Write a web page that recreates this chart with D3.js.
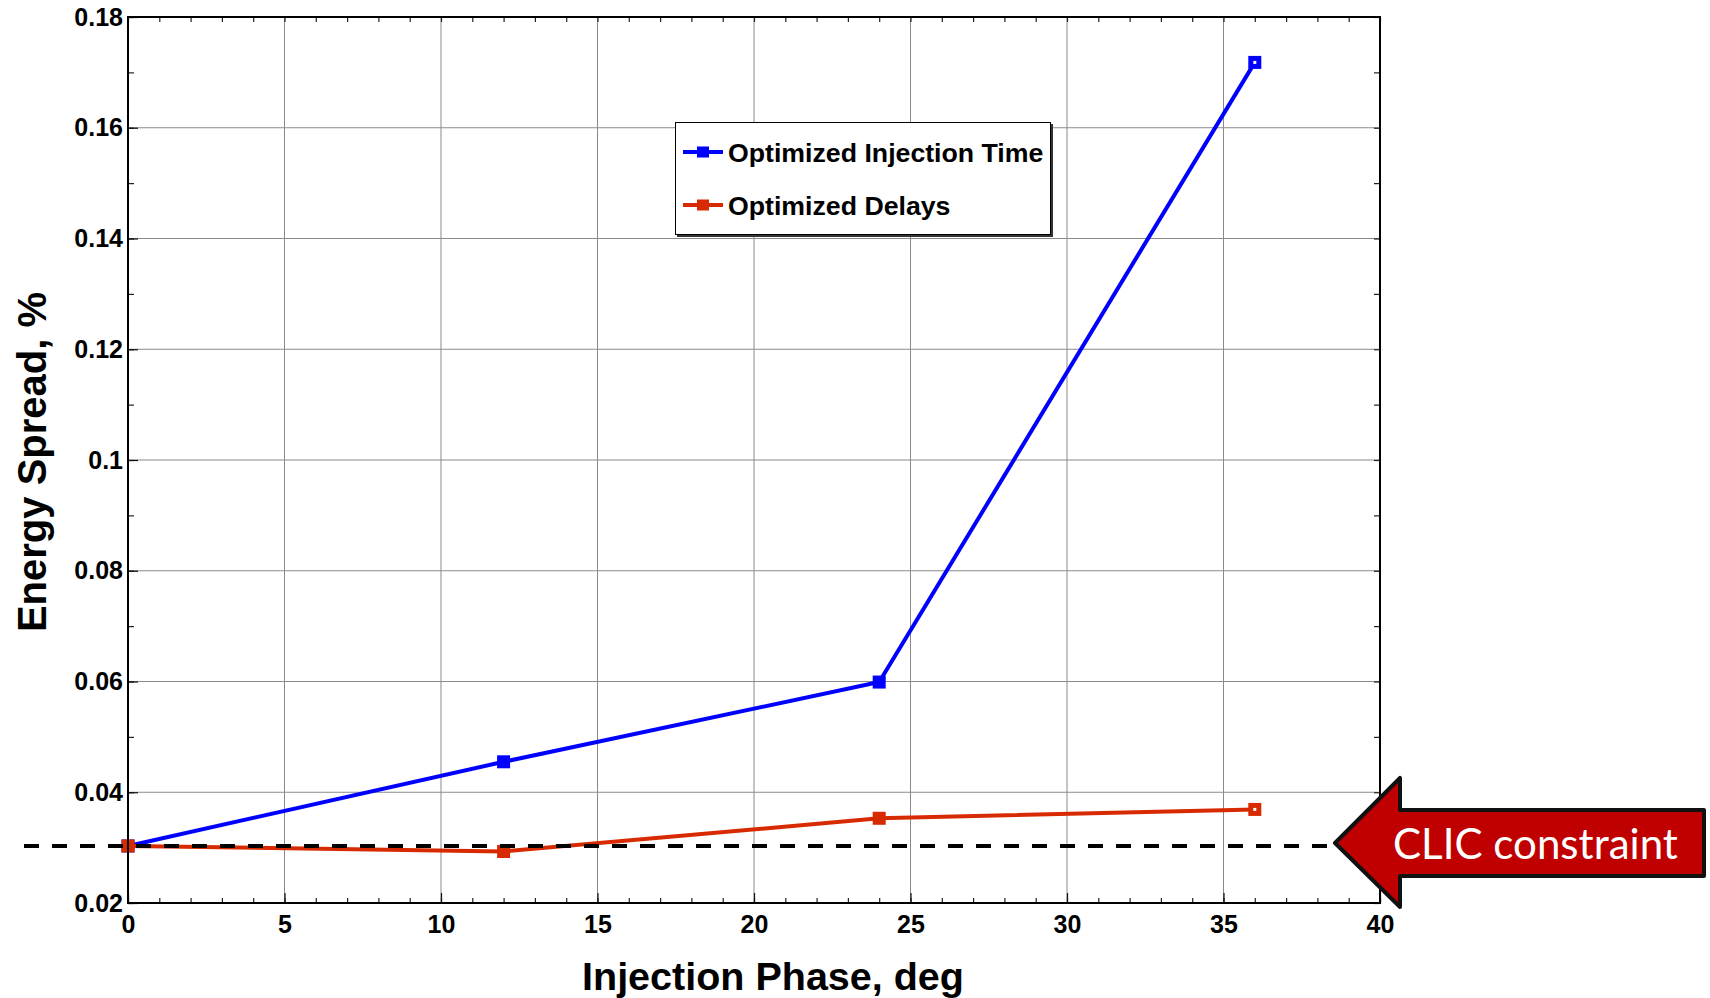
<!DOCTYPE html>
<html>
<head>
<meta charset="utf-8">
<script src="https://cdn.jsdelivr.net/npm/d3@7"></script>
<style>
  html, body { margin: 0; padding: 0; background: #ffffff; }
  svg { display: block; }
</style>
</head>
<body>
<svg id="chart" width="1710" height="998"></svg>
<script>
// ---- data ----
const phases = [0, 12, 24, 36];
const injectionTime = [0.0303, 0.0455, 0.0599, 0.1718];
const delays = [0.0303, 0.0293, 0.0353, 0.0369];
const seriesNames = ["Optimized Injection Time", "Optimized Delays"];
const seriesColors = ["#0000ff", "#d82a00"];
const xTicks = [0, 5, 10, 15, 20, 25, 30, 35, 40];
const yTicks = [0.02, 0.04, 0.06, 0.08, 0.1, 0.12, 0.14, 0.16, 0.18];
const yTickLabels = ["0.02", "0.04", "0.06", "0.08", "0.1", "0.12", "0.14", "0.16", "0.18"];
const xMinor = d3.range(0, 41, 1);
const yMinor = d3.range(0.02, 0.1801, 0.01);
const clicConstraint = 0.0303;
const clicLabel = "CLIC constraint";
const xTitle = "Injection Phase, deg";
const yTitle = "Energy Spread, %";

// ---- layout ----
const L = 128, R = 1380, T = 17, B = 903;
const svg = d3.select("#chart");
const x = d3.scaleLinear().domain([0, 40]).range([L, R]);
const y = d3.scaleLinear().domain([0.02, 0.18]).range([B, T]);
const FONT = "'Liberation Sans', Arial, sans-serif";

// grid
const grid = svg.append("g").attr("stroke", "#8a8a8a").attr("stroke-width", 1);
grid.selectAll("line.v").data(xTicks.slice(1, -1)).join("line")
  .attr("x1", d => x(d)).attr("x2", d => x(d)).attr("y1", T).attr("y2", B);
grid.selectAll("line.h").data(yTicks.slice(1, -1)).join("line")
  .attr("y1", d => y(d)).attr("y2", d => y(d)).attr("x1", L).attr("x2", R);

// minor ticks (inward), all four sides
const minorG = svg.append("g");
minorG.append("g").attr("transform", `translate(0,${B})`)
  .call(d3.axisBottom(x).tickValues(xMinor).tickSize(-5).tickFormat(""));
minorG.append("g").attr("transform", `translate(0,${T})`)
  .call(d3.axisTop(x).tickValues(xMinor).tickSize(-5).tickFormat(""));
minorG.append("g").attr("transform", `translate(${L},0)`)
  .call(d3.axisLeft(y).tickValues(yMinor).tickSize(-6).tickFormat(""));
minorG.append("g").attr("transform", `translate(${R},0)`)
  .call(d3.axisRight(y).tickValues(yMinor).tickSize(-6).tickFormat(""));
minorG.selectAll(".domain").remove();
minorG.selectAll(".tick line").attr("stroke", "#222").attr("stroke-width", 1.2);

// major axes with labels
const xAxisG = svg.append("g").attr("transform", `translate(0,${B})`)
  .call(d3.axisBottom(x).tickValues(xTicks).tickSize(-10).tickPadding(12).tickFormat(d3.format("d")));
const yAxisG = svg.append("g").attr("transform", `translate(${L},0)`)
  .call(d3.axisLeft(y).tickValues(yTicks).tickSize(-10).tickPadding(5)
    .tickFormat((d, i) => yTickLabels[i]));
[xAxisG, yAxisG].forEach(g => {
  g.select(".domain").remove();
  g.selectAll(".tick line").attr("stroke", "#111").attr("stroke-width", 1.2);
  g.selectAll(".tick text").attr("font-family", FONT).attr("font-weight", "bold")
    .attr("font-size", 25).attr("fill", "#000");
});

// series
const seriesData = [injectionTime, delays];
const line = d3.line().x(d => x(d[0])).y(d => y(d[1]));
seriesData.forEach((vals, si) => {
  const pts = phases.map((p, i) => [p, vals[i]]);
  svg.append("path").datum(pts).attr("d", line)
    .attr("fill", "none").attr("stroke", seriesColors[si]).attr("stroke-width", 4)
    .attr("stroke-linejoin", "round");
  svg.append("g").selectAll("rect").data(pts).join("rect")
    .attr("x", d => x(d[0]) - 6.5).attr("y", d => y(d[1]) - 6.5)
    .attr("width", 13).attr("height", 13).attr("fill", seriesColors[si]);
  // small light centre on the last marker
  const last = pts[pts.length - 1];
  svg.append("rect").attr("x", x(last[0]) - 1.5).attr("y", y(last[1]) - 1.5)
    .attr("width", 3).attr("height", 3).attr("fill", "#fff");
});

// frame
svg.append("rect").attr("x", L).attr("y", T).attr("width", R - L).attr("height", B - T)
  .attr("fill", "none").attr("stroke", "#000").attr("stroke-width", 2);

// axis titles
svg.append("text").attr("x", 773).attr("y", 990).attr("text-anchor", "middle")
  .attr("font-family", FONT).attr("font-weight", "bold").attr("font-size", 39.5)
  .attr("fill", "#000").text(xTitle);
svg.append("text").attr("transform", "translate(46,462) rotate(-90)").attr("text-anchor", "middle")
  .attr("font-family", FONT).attr("font-weight", "bold").attr("font-size", 40)
  .attr("fill", "#000").text(yTitle);

// legend
const lg = svg.append("g");
lg.append("rect").attr("x", 677).attr("y", 124).attr("width", 376).attr("height", 113).attr("fill", "#333");
lg.append("rect").attr("x", 675.5).attr("y", 122.5).attr("width", 375).attr("height", 112)
  .attr("fill", "#fff").attr("stroke", "#000").attr("stroke-width", 1);
const legY = [152, 205];
seriesNames.forEach((name, i) => {
  lg.append("line").attr("x1", 683).attr("x2", 723).attr("y1", legY[i]).attr("y2", legY[i])
    .attr("stroke", seriesColors[i]).attr("stroke-width", 4);
  lg.append("rect").attr("x", 703 - 6).attr("y", legY[i] - 5.5).attr("width", 12).attr("height", 11)
    .attr("fill", seriesColors[i]);
  lg.append("text").attr("x", 728).attr("y", legY[i] + 10).attr("font-family", FONT)
    .attr("font-weight", "bold").attr("font-size", 26.7).attr("fill", "#000").text(name);
});

// CLIC constraint dashed line + arrow
const cy = y(clicConstraint);
const tipX = 1335;
svg.append("line").attr("x1", 24).attr("x2", tipX).attr("y1", cy).attr("y2", cy)
  .attr("stroke", "#000").attr("stroke-width", 4).attr("stroke-dasharray", "15,13");

const headX = 1400, rightX = 1704;
const arrowPts = [
  [tipX, cy - 3], [headX, cy - 68], [headX, cy - 36], [rightX, cy - 36],
  [rightX, cy + 30], [headX, cy + 30], [headX, cy + 61]
];
svg.append("path").attr("d", d3.line()(arrowPts) + "Z")
  .attr("fill", "#c00000").attr("stroke", "#111").attr("stroke-width", 4)
  .attr("stroke-linejoin", "round");
const clicText = svg.append("text").attr("x", 1393).attr("y", cy + 13)
  .attr("font-family", "Lato, 'Open Sans', sans-serif").attr("font-size", 46)
  .attr("fill", "#fff").text(clicLabel);
const w = clicText.node().getComputedTextLength();
if (w > 0) clicText.attr("font-size", 46 * 285 / w);
</script>
</body>
</html>
